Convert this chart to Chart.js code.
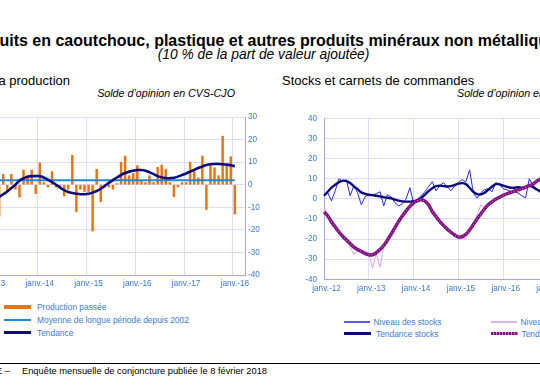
<!DOCTYPE html>
<html lang="fr">
<head>
<meta charset="UTF-8">
<title>Caoutchouc, plastique et produits minéraux non métalliques</title>
<script src="https://cdn.jsdelivr.net/npm/chart.js"></script>
<style>
  html, body { margin: 0; padding: 0; }
  body {
    width: 540px; height: 386px; overflow: hidden; position: relative;
    background: #fff; color: #000;
    font-family: "Liberation Sans", Arial, sans-serif;
  }
  .abs { position: absolute; white-space: nowrap; }
  #titre { left: -37px; top: 33px; font-size: 16px; line-height: 16px; font-weight: bold; }
  #soustitre { left: 0; width: 527px; text-align: center; top: 47.5px; font-size: 13.8px; line-height: 14px; font-style: italic; }
  .entete { font-size: 13px; line-height: 13px; top: 74px; }
  #enteteG { right: 470px; }
  #enteteD { left: 282px; }
  .solde { font-size: 10.7px; line-height: 11px; top: 88px; font-style: italic; }
  #soldeG { right: 305px; }
  #soldeD { left: 457px; }
  .graph { position: absolute; }
  #boxProd { left: -11px; top: 107px; width: 284px; height: 188px; }
  #boxStocks { left: 294px; top: 108px; width: 310px; height: 192px; }

  .leg { position: absolute; height: 10px; display: flex; align-items: center;
         font-size: 8.4px; color: #3b7bd6; white-space: nowrap; }
  .trait { flex: none; }
  #filet { left: 0; top: 363px; width: 540px; height: 1.4px; background: #000; }
  .pied { font-size: 9.3px; line-height: 11px; top: 366px; }
  #source { right: 530px; }
  #enquete { left: 22px; }
</style>
</head>
<body>

<div id="titre" class="abs">Produits en caoutchouc, plastique et autres produits minéraux non métalliques</div>
<div id="soustitre" class="abs">(10 % de la part de valeur ajoutée)</div>

<div id="enteteG" class="abs entete">Évolution de la production</div>
<div id="enteteD" class="abs entete">Stocks et carnets de commandes</div>
<div id="soldeG" class="abs solde">Solde d’opinion en CVS-CJO</div>
<div id="soldeD" class="abs solde">Solde d’opinion en CVS-CJO</div>

<div id="boxProd" class="graph"><canvas id="chartProd" width="284" height="188"></canvas></div>
<div id="boxStocks" class="graph"><canvas id="chartStocks" width="310" height="192"></canvas></div>

<!-- legende production -->
<div class="leg" style="left:4px; top:301.5px;"><div class="trait" style="width:27px;height:4px;background:#e8730f;margin-right:6px"></div>Production passée</div>
<div class="leg" style="left:4px; top:314.6px;"><div class="trait" style="width:27px;height:2px;background:#1f88d8;margin-right:6px"></div>Moyenne de longue période depuis 2002</div>
<div class="leg" style="left:4px; top:327.7px;"><div class="trait" style="width:27px;height:2.6px;background:#0b0b7c;margin-right:6px"></div>Tendance</div>

<!-- legende stocks / carnets -->
<div class="leg" style="left:344px; top:317px;"><div class="trait" style="width:26px;height:1.4px;background:#5b5bf0;margin-right:3.5px"></div>Niveau des stocks</div>
<div class="leg" style="left:344px; top:328.5px;"><div class="trait" style="width:27px;height:2.6px;background:#0b0b7c;margin-right:5px"></div>Tendance stocks</div>
<div class="leg" style="left:491px; top:317px;"><div class="trait" style="width:26px;height:1.4px;background:#d8b6f2;margin-right:3.5px"></div>Niveau des carnets de commandes</div>
<div class="leg" style="left:491px; top:328.5px;"><div class="trait" style="width:27px;height:3.4px;background:repeating-linear-gradient(90deg,#7d0e7d 0 2px,#d27ad2 2px 3px);margin-right:3.5px"></div>Tendance carnets de commandes</div>

<div id="filet" class="abs"></div>
<div id="source" class="abs pied">Source : BANQUE DE FRANCE –</div>
<div id="enquete" class="abs pied">Enquête mensuelle de conjoncture publiée le 8 février 2018</div>

<script>
// ---- donnees : production (mensuel, janv. 2013 -> mars 2018) ----
const etiquettesProd = ['janv.-13', 'janv.-14', 'janv.-15', 'janv.-16', 'janv.-17', 'janv.-18'];
const productionPassee = [null, null, -14, 4.6, -3, 4.6, -2, -5.5, 6.5, 4, 6.5, -4,
  9.7, 1, -1, 5.8, -1, -1, -5, -2, 13, -12, -2, -3,
  -3, -20.5, 6.8, -7.5, -1, -1, -2, 0.5, 10, 12.7, 4, 5,
  8.5, 2, 1, 4, 1, 7.7, 8.7, 6.8, 1, -5.3, -1, 1,
  1, 10, 6.8, 3, 12.7, -11, 8.5, 7.5, 4, 21.5, 9, 12.4,
  -13];
const tendanceProd = [null, null, -5.5, -4.2, -3, -1.5, 0, 1.8, 2.8, 3.5, 3.8, 3.8,
  3.8, 3.2, 2.2, 1.2, 0, -1.3, -2.4, -3.2, -3.7, -4, -4.2, -4.2,
  -4, -3.5, -2.8, -1.8, -0.5, 0.8, 2, 3.2, 4.3, 5.2, 5.8, 6.2,
  6.5, 6.5, 6.2, 5.5, 4.7, 3.8, 3.3, 3, 2.9, 3.1, 3.6, 4.3,
  5, 5.8, 6.6, 7.4, 8.1, 8.7, 9.1, 9.2, 9.2, 9.1, 8.9, 8.6,
  8.2];
const moyenneLongue = 2;

// ---- donnees : stocks et carnets (mensuel, janv. 2012 -> ...) ----
const etiquettesStocks = ['janv.-12', 'janv.-13', 'janv.-14', 'janv.-15', 'janv.-16', 'janv.-17', 'janv.-18'];
const niveauStocks = [1.5, 3, -1, 4, 10, 8.5, 9.5, 1.5, 6.5, 3,
  -3, 1, 2, 2, 2.5, 3.5, -3.5, 2, 1, -2,
  -3.5, -2.5, 0, 5.5, -2, -1.5, 1, 3.5, 6, 8.5,
  4, 6.5, 8, 6, 4, 6.5, 8, 9.5, 8.5, 14.4,
  3, 0.3, 3, 4.5, 5, 3.5, 8, 7, 5, 4.5,
  3.6, 3.6, 2.8, 1.5, 0.5, 10, 6.5, 4.5, 4];
const tendanceStocks = [1.5, 3.5, 5.5, 7, 8.2, 9, 8.8, 7.8, 6.2, 4.8,
  3.2, 2.5, 2, 1.8, 1.5, 1.2, 0.8, 0.5, 0.2, -0.4,
  -0.9, -1.3, -1.4, -1.4, -1.2, -0.6, 0.5, 2, 3.8, 5.3,
  6.3, 6.5, 6.3, 6.1, 6.3, 6.8, 7.5, 7.8, 7.3, 5.5,
  3.5, 2.3, 2.2, 3, 4.5, 6, 7.3, 7.2, 6.5, 6,
  5.5, 5.5, 5.8, 5.5, 5.8, 6.5, 5.8, 4.6, 3.6];
const niveauCarnets = [-4, -9, -11.5, -14, -16.5, -19, -19.5, -24, -27.5, -26,
  -26, -26, -27, -34.5, -27, -34, -24, -19, -17, -14,
  -12, -8, -5.5, -4, -1.5, -0.5, 2, -1.5, -4, -6,
  -9, -11, -13, -16.5, -16, -18.5, -20, -19.5, -20, -14,
  -13, -8, -3, -4.5, -2, -1.5, 0, 1, 1.5, 3,
  3, 4.8, 2.8, 5, 6, 8.5, 6.5, 8, 9];
const tendanceCarnets = [-6.5, -8.5, -11.5, -14, -16.5, -18.6, -20.5, -22.2, -24, -25.2,
  -26.2, -27.2, -27.8, -27.8, -26.8, -25.2, -23.2, -20.6, -17.5, -14.3,
  -11.2, -8.5, -6, -3.8, -2, -1, -0.5, -1.2, -3, -6.3,
  -8.8, -11.2, -13.2, -15, -16.6, -18, -19, -18.8, -17.6, -15.5,
  -12.8, -10, -7.5, -5, -3, -1.5, -0.2, 0.8, 1.7, 2.5,
  3.2, 3.8, 4.5, 5, 5.8, 6.5, 7.3, 8.8, 9.8];

const bleuTexte = '#3b7bd6';
const grille = '#dcdcfa';
const axe = '#a4a4ee';
const policeAxe = { family: '"Liberation Sans", Arial, sans-serif', size: 8.2 };

function listeMois(anDebut, nb) {
  const out = [];
  for (let i = 0; i < nb; i++) {
    const an = anDebut + Math.floor(i / 12);
    const m = (i % 12) + 1;
    out.push(an + '-' + (m < 10 ? '0' + m : m));
  }
  return out;
}

function sansMarges(w, h) {
  return function (s) {
    s.paddingLeft = 0; s.paddingRight = 0; s.paddingTop = 0; s.paddingBottom = 0;
    if (w) s.width = w;
    if (h) s.height = h;
  };
}

Chart.defaults.font.family = '"Liberation Sans", Arial, sans-serif';

// ---------- graphique production ----------
const moisProd = listeMois(2013, 63);
new Chart(document.getElementById('chartProd'), {
  type: 'bar',
  data: {
    labels: moisProd,
    datasets: [
      {
        type: 'line', label: 'Tendance', data: tendanceProd,
        borderColor: '#0b0b7c', borderWidth: 2.6, pointRadius: 0, tension: 0.4, order: 1
      },
      {
        type: 'line', label: 'Moyenne de longue période depuis 2002',
        data: productionPassee.map(v => v === null ? null : moyenneLongue),
        borderColor: '#1f88d8', borderWidth: 2, pointRadius: 0, order: 2
      },
      {
        type: 'bar', label: 'Production passée', data: productionPassee,
        backgroundColor: '#e8730f', barThickness: 1.8, order: 3
      }
    ]
  },
  options: {
    responsive: false, animation: false, devicePixelRatio: 1,
    layout: { padding: { top: 10, left: 0, right: 0, bottom: 0 } },
    plugins: { legend: { display: false }, tooltip: { enabled: false } },
    scales: {
      x: {
        offset: true,
        grid: {
          offset: true, drawTicks: false,
          color: c => (c.tick && c.index > 0 && c.index % 12 === 0) ? grille : 'rgba(0,0,0,0)'
        },
        border: { color: axe },
        ticks: {
          autoSkip: false, maxRotation: 0, padding: 4, color: bleuTexte, font: policeAxe,
          callback: (v, i) => i % 12 === 0 ? etiquettesProd[i / 12] : ''
        },
        afterFit: sansMarges(null, 20)
      },
      y: {
        position: 'right', min: -40, max: 30,
        grid: { color: grille, drawTicks: false },
        border: { color: axe },
        ticks: { stepSize: 10, padding: 3, color: bleuTexte, font: policeAxe },
        afterFit: sansMarges(28, null)
      }
    }
  }
});

// ---------- graphique stocks et carnets ----------
const moisStocks = listeMois(2012, 76);
new Chart(document.getElementById('chartStocks'), {
  type: 'line',
  data: {
    labels: moisStocks,
    datasets: [
      { label: 'Niveau des carnets de commandes', data: niveauCarnets, borderColor: '#cfa6f2', borderWidth: 1, pointRadius: 0, tension: 0, order: 5 },
      { label: 'Niveau des stocks', data: niveauStocks, borderColor: '#2828e8', borderWidth: 1, pointRadius: 0, tension: 0, order: 4 },
      { label: 'Tendance stocks', data: tendanceStocks, borderColor: '#0b0b7c', borderWidth: 2.4, pointRadius: 0, tension: 0.4, order: 3 },
      { label: 'Tendance carnets de commandes', data: tendanceCarnets, borderColor: '#7d0e7d', borderWidth: 3.4, pointRadius: 0, tension: 0.4, order: 2 },
      { label: '', data: tendanceCarnets, borderColor: 'rgba(220,130,220,0.85)', borderWidth: 1.1, borderDash: [1, 2], pointRadius: 0, tension: 0.4, order: 1 }
    ]
  },
  options: {
    responsive: false, animation: false, devicePixelRatio: 1,
    layout: { padding: { top: 10.3, left: 0, right: 0, bottom: 0.7 } },
    plugins: { legend: { display: false }, tooltip: { enabled: false } },
    scales: {
      x: {
        grid: {
          drawTicks: false,
          color: c => (c.tick && c.index > 0 && c.index % 12 === 0) ? grille : 'rgba(0,0,0,0)'
        },
        border: { color: axe },
        ticks: {
          autoSkip: false, maxRotation: 0, padding: 5, labelOffset: 2.5, color: bleuTexte, font: policeAxe,
          callback: (v, i) => i % 12 === 0 ? etiquettesStocks[i / 12] : ''
        },
        afterFit: sansMarges(null, 20)
      },
      y: {
        min: -40, max: 40,
        grid: { color: grille, drawTicks: false },
        border: { color: axe },
        ticks: { stepSize: 10, padding: 7, color: bleuTexte, font: policeAxe },
        afterFit: sansMarges(30, null)
      }
    }
  }
});
</script>
</body>
</html>
